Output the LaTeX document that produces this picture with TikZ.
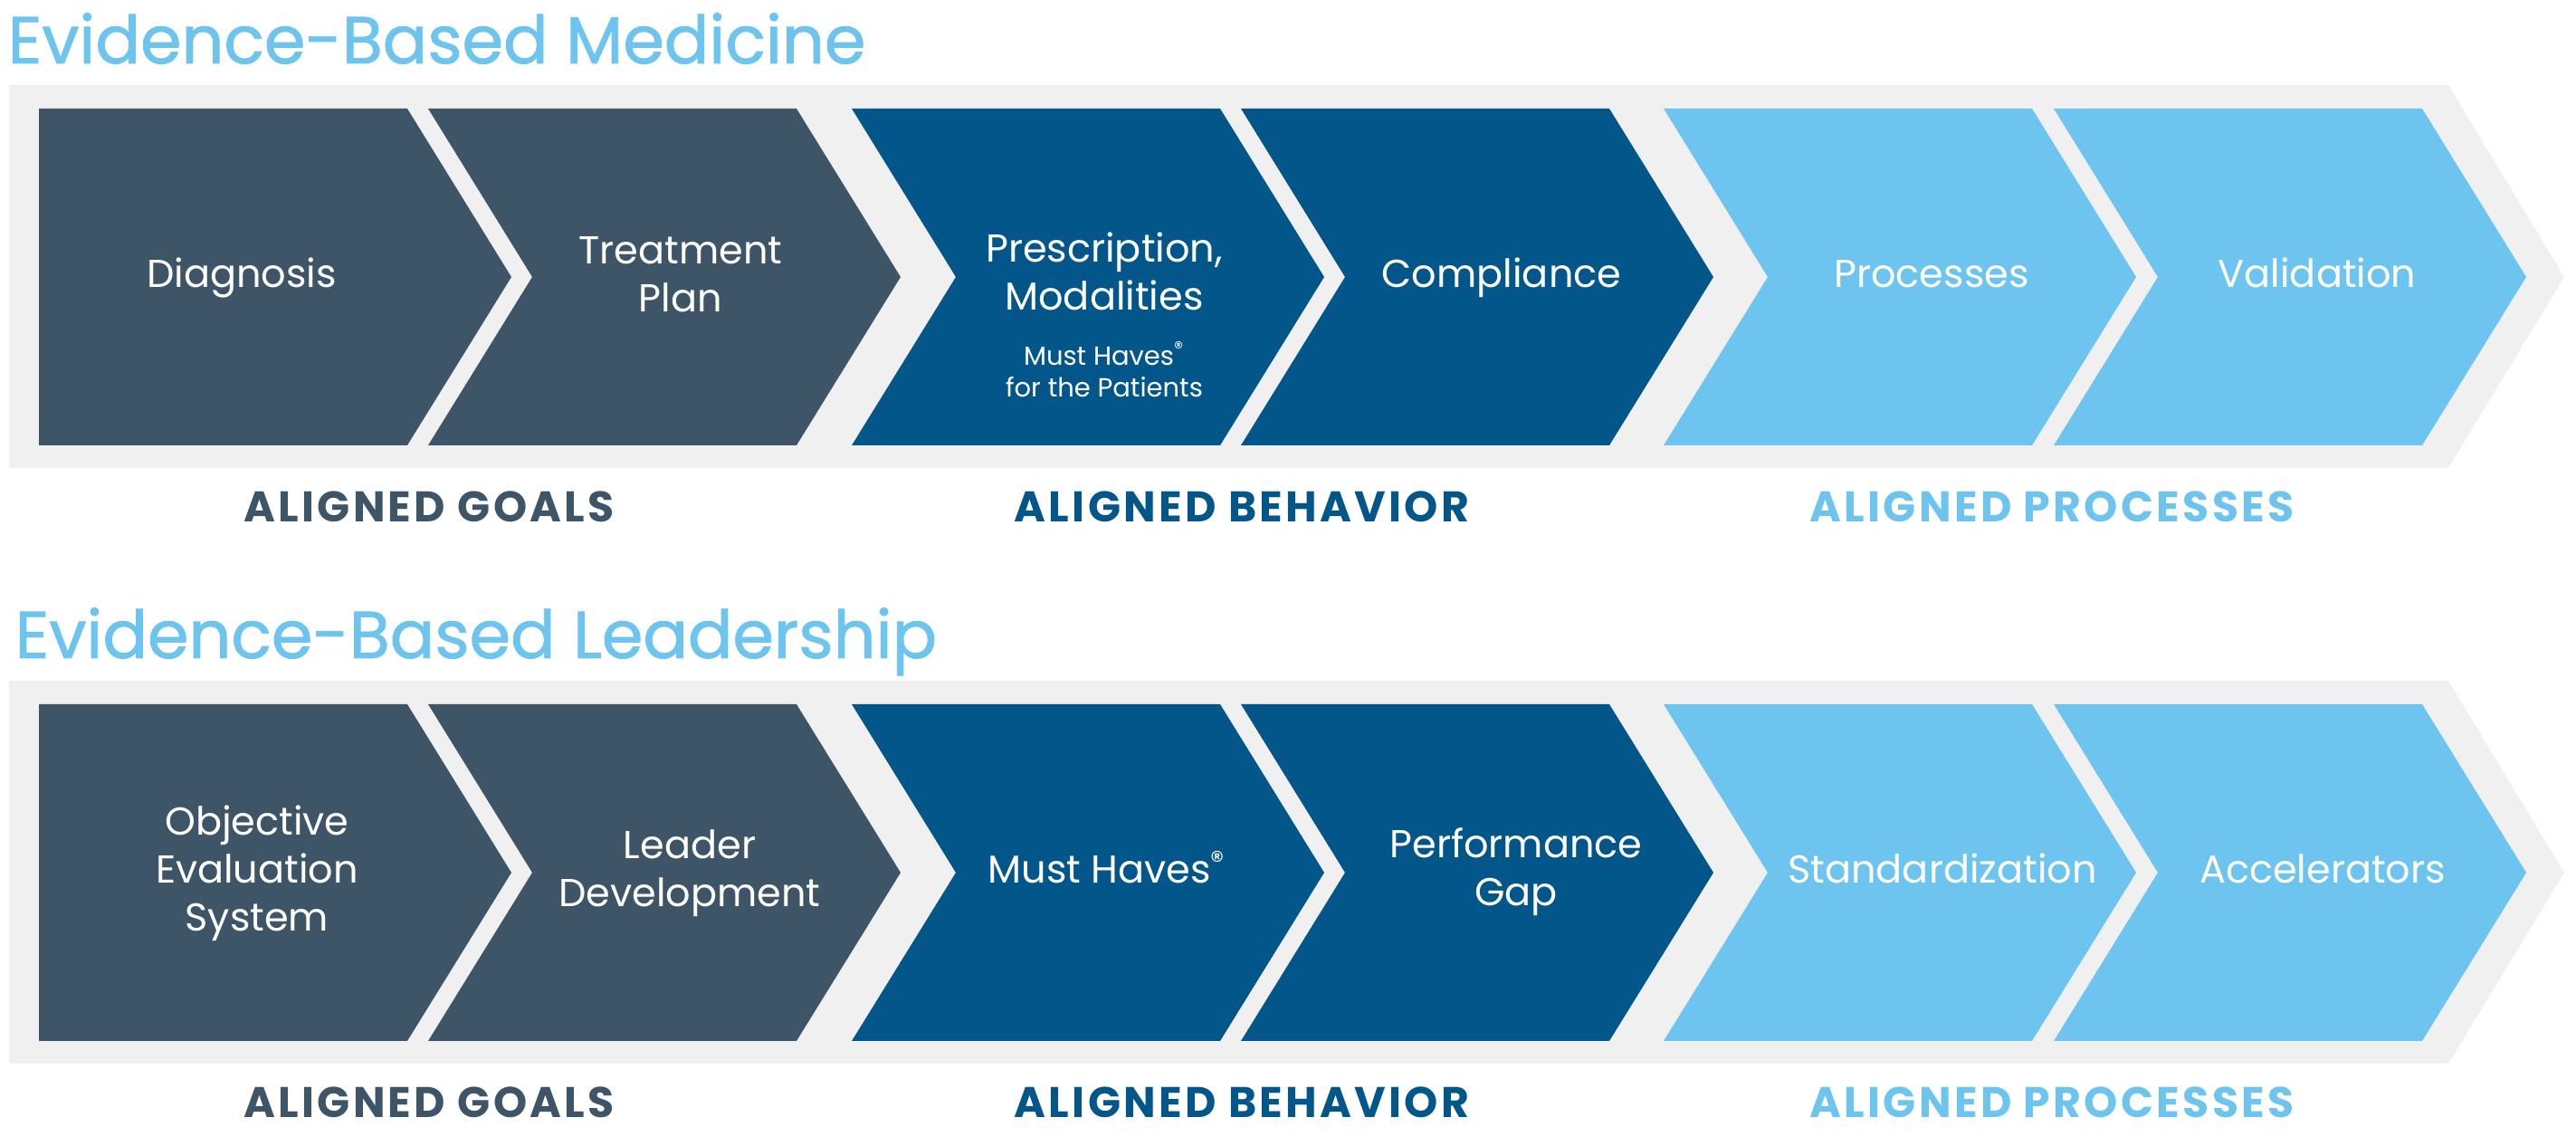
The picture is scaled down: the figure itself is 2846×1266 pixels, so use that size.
\documentclass[tikz,border=0pt]{standalone}
\usepackage{fontspec}
\setmainfont{Poppins}
\newfontfamily\headfont[FakeBold=1.2]{Poppins}
\newfontfamily\labelfont[LetterSpace=7]{Poppins}
\definecolor{slate}{HTML}{3E5568}
\definecolor{navy}{HTML}{02568A}
\definecolor{sky}{HTML}{6CC4EF}
\definecolor{band}{HTML}{F0F0F0}
\newcommand\regmk[1]{\textsuperscript{\fontsize{#1}{#1}\selectfont ®}}
\begin{document}
\begin{tikzpicture}[x=0.3pt,y=-0.3pt]
\tikzstyle{every node}=[inner sep=0pt]
\tikzstyle{chevtext}=[anchor=base, align=center, text=white, font=\fontsize{12.9pt}{16pt}\selectfont]
\tikzstyle{subtext}=[chevtext, font=\fontsize{8.7pt}{10.5pt}\selectfont]
\tikzstyle{heading}=[anchor=base west, text=sky, font=\fontsize{22pt}{24pt}\headfont]
\tikzstyle{aligned}=[anchor=base, font=\fontsize{14.2pt}{16pt}\labelfont\bfseries]
\useasboundingbox (0,0) rectangle (2846,1266);

\foreach \dy/\r in {0/a,658/b}{
\begin{scope}[shift={(0,\dy)}]
\fill[band] (10,94) -- (2705,94) -- (2833,306) -- (2705,517) -- (10,517) -- cycle;
\foreach \x/\n/\c in {43/0/slate,473/115/slate,941/115/navy,1371/115/navy,1838/115/sky,2269/115/sky}
  \fill[\c] (\x,120) -- ++(407,0) -- ++(115,186) -- ++(-115,186) -- (\x,492) -- ++(\n,-186) -- cycle;
\node[aligned, text=slate] (goals-\r) at (474,577) {ALIGNED GOALS};
\node[aligned, text=navy] (behavior-\r) at (1372,577) {ALIGNED BEHAVIOR};
\node[aligned, text=sky] (processes-\r) at (2267,577) {ALIGNED PROCESSES};
\end{scope}}

% titles
\node[heading] (medicine) at (8,70) {Evidence-Based Medicine};
\node[heading] (leadership) at (16,727) {Evidence-Based Leadership};

% medicine row
\node[chevtext] (diagnosis) at (267,318) {Diagnosis};
\node[chevtext] (treatment) at (752,345) {Treatment\\Plan};
\node[chevtext] (prescription) at (1220,343) {Prescription,\\Modalities};
\node[subtext] (patients) at (1220,439) {Must Haves\regmk{6pt}\\for the Patients};
\node[chevtext] (compliance) at (1659,318) {Compliance};
\node[chevtext] (processes) at (2134,318) {Processes};
\node[chevtext] (validation) at (2560,318) {Validation};

% leadership row
\node[chevtext] (objective) at (284,1029) {Objective\\Evaluation\\System};
\node[chevtext] (leader) at (762,1002) {Leader\\Development};
\node[chevtext] (musthaves) at (1223,976) {Must Haves\regmk{9pt}};
\node[chevtext] (perfgap) at (1675,1001) {Performance\\Gap};
\node[chevtext] (standard) at (2146,976) {Standardization};
\node[chevtext] (accel) at (2566,976) {Accelerators};

\end{tikzpicture}
\end{document}
